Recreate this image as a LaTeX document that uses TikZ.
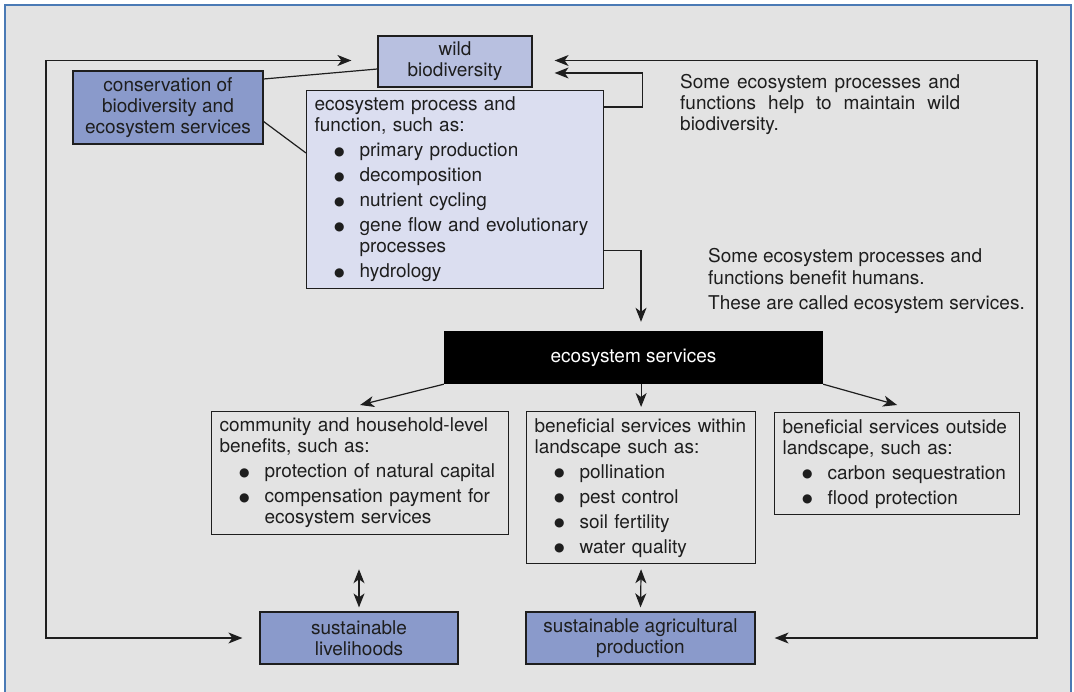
\documentclass[tikz,border=0pt]{standalone}
\usepackage{fontspec}
\setmainfont{TeX Gyre Heros}
\newfontfamily\symbolfont{DejaVu Sans}
\usepackage{xcolor}
\usepackage{tikz}
\usetikzlibrary{arrows.meta}

\definecolor{framebg}{HTML}{E3E3E3}
\definecolor{frameblue}{HTML}{4A7AB5}
\definecolor{darkfill}{HTML}{8A9ACB}
\definecolor{midfill}{HTML}{B8C0E0}
\definecolor{lightfill}{HTML}{DBDEF0}
\definecolor{ink}{HTML}{1E1E1E}

\newcommand{\bigbullet}{\raisebox{1.5pt}{\symbolfont\fontsize{12}{12}\selectfont ●}}
\newcommand{\bitem}[1]{\par\vspace{4pt}\hangindent=45pt\hangafter=0\noindent\llap{\bigbullet\hspace{15pt}}#1\par}

\begin{document}
\begin{tikzpicture}[x=1pt,y=-1pt,
  font=\fontsize{19}{21}\selectfont, text=ink,
  link/.style={draw=ink, line width=1.2pt},
  flow/.style={link, -{Stealth[length=14pt,width=11pt,inset=4pt]}},
  both/.style={link, {Stealth[length=14pt,width=11pt,inset=4pt]}-{Stealth[length=14pt,width=11pt,inset=4pt]}},
  bluebox/.style={draw=ink, line width=1.2pt, fill=darkfill, align=center},
  listbox/.style={draw=ink, line width=1.2pt, anchor=north west, align=left, inner xsep=8pt, inner ysep=6.5pt},
  remark/.style={anchor=north west, inner sep=0pt}]

\useasboundingbox (0,0) rectangle (1074,692);
\fill[framebg] (5,5) rectangle (1071,692);
\draw[frameblue, line width=1.5pt] (5,692) -- (5,5) -- (1071,5) -- (1071,692);

\node[bluebox, fill=midfill, minimum width=154pt, minimum height=51pt] (wild) at (455,61.5) {wild\\biodiversity};
\node[bluebox, minimum width=190pt, minimum height=73pt] (conserv) at (168,107.5) {conservation of\\biodiversity and\\ecosystem services};

\node[listbox, fill=lightfill, text width=281pt] (process) at (306,90) {ecosystem process and\newline function, such as:
\bitem{primary production}
\bitem{decomposition}
\bitem{nutrient cycling}
\bitem{gene flow and evolutionary\newline processes}
\bitem{hydrology}};

\node[remark, text width=280pt, align=justify] (helpnote) at (680,74) {Some ecosystem processes and\linebreak functions help to maintain wild\linebreak biodiversity.};
\node[remark, align=left] (humannote) at (708,248) {Some ecosystem processes and\\[1pt]functions benefit humans.\\[4pt]These are called ecosystem services.};

\node[fill=black, text=white, minimum width=379pt, minimum height=53pt] (services) at (633.5,357.5) {ecosystem services};

\node[listbox, text width=281pt] (community) at (211,411) {community and household-level\newline benefits, such as:
\bitem{protection of natural capital}
\bitem{compensation payment for\newline ecosystem services}};
\node[listbox, text width=213pt] (within) at (526,411) {beneficial services within\newline landscape such as:
\bitem{pollination}
\bitem{pest control}
\bitem{soil fertility}
\bitem{water quality}};
\node[listbox, text width=229pt] (outside) at (774,412) {beneficial services outside\newline landscape, such as:
\bitem{carbon sequestration}
\bitem{flood protection}};

\node[bluebox, minimum width=198pt, minimum height=52pt] (livelihood) at (359,638) {sustainable\\livelihoods};
\node[bluebox, minimum width=229pt, minimum height=52pt] (agriprod) at (640.5,638) {sustainable agricultural\\production};

\coordinate (leftcorner) at (46,60.5);
\coordinate (rightcorner) at (1037,60.5);

\draw[link] ([yshift=28.5pt]conserv.east) -- ([yshift=-7.5pt]wild.west);
\draw[link] ([yshift=-14pt]conserv.east) -- ([yshift=-63pt]process.north west);

\draw[both, shorten <=26pt, shorten >=17pt] ([yshift=1pt]wild.west) -- (leftcorner) |- (livelihood.west);
\draw[both, shorten <=22pt, shorten >=19pt] ([yshift=1pt]wild.east) -- (rightcorner) |- (agriprod.east);

\draw[flow, shorten >=22pt] ([yshift=-17pt]process.north east) -- ++(38,0) |- ([yshift=-11.5pt]wild.east);
\draw[flow, shorten >=9pt] ([yshift=39pt]process.south east) -| ([xshift=7.5pt]services.north);

\draw[flow] (services.south west) -- ([yshift=6pt]community.north);
\draw[flow, shorten >=4pt] (services.south -| within.north) -- (within.north);
\draw[flow] (services.south east) -- ([yshift=7pt]outside.north);

\draw[both] ([yshift=-5pt]livelihood.north |- within.south) -- ([yshift=4pt]livelihood.north);
\draw[both] ([yshift=-5pt]within.south) -- ([yshift=4pt]agriprod.north);

\end{tikzpicture}
\end{document}
